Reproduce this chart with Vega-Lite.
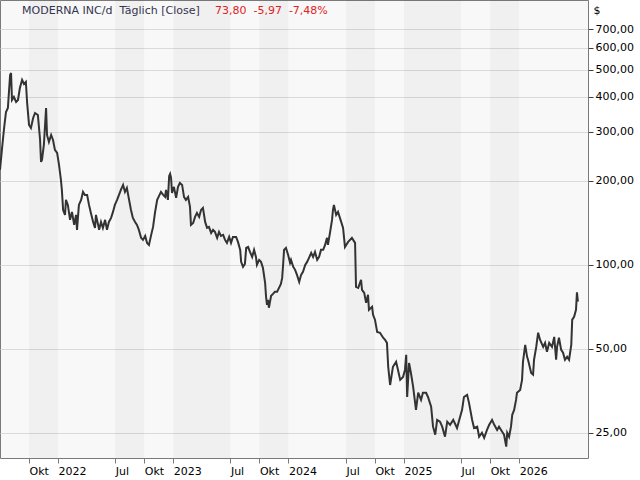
{
  "$schema": "https://vega.github.io/schema/vega-lite/v6.json",
  "width": 588,
  "height": 458,
  "autosize": {"type": "none"},
  "padding": {"left": 0, "top": 0, "right": 52, "bottom": 22},
  "background": "#ffffff",
  "datasets": {
    "bands": [
      {"start": "2021-10-01", "end": "2022-01-01"},
      {"start": "2022-07-01", "end": "2022-10-01"},
      {"start": "2023-01-01", "end": "2023-07-01"},
      {"start": "2023-10-01", "end": "2024-01-01"},
      {"start": "2024-07-01", "end": "2024-10-01"},
      {"start": "2025-01-01", "end": "2025-07-01"},
      {"start": "2025-10-01", "end": "2026-01-01"}
    ],
    "prices": [
      {"date": "2021-07-01", "close": 219.1},
      {"date": "2021-07-07", "close": 258.4},
      {"date": "2021-07-14", "close": 309.7},
      {"date": "2021-07-20", "close": 353.5},
      {"date": "2021-07-26", "close": 365.4},
      {"date": "2021-08-02", "close": 479.7},
      {"date": "2021-08-05", "close": 487.8},
      {"date": "2021-08-08", "close": 390.4},
      {"date": "2021-08-14", "close": 400.2},
      {"date": "2021-08-21", "close": 384.0},
      {"date": "2021-08-27", "close": 390.4},
      {"date": "2021-09-02", "close": 430.9},
      {"date": "2021-09-09", "close": 460.4},
      {"date": "2021-09-15", "close": 445.4},
      {"date": "2021-09-21", "close": 452.9},
      {"date": "2021-09-25", "close": 380.8},
      {"date": "2021-10-01", "close": 317.6},
      {"date": "2021-10-07", "close": 309.7},
      {"date": "2021-10-14", "close": 336.5},
      {"date": "2021-10-20", "close": 350.6},
      {"date": "2021-10-29", "close": 344.9},
      {"date": "2021-11-05", "close": 280.5},
      {"date": "2021-11-08", "close": 234.0},
      {"date": "2021-11-11", "close": 237.9},
      {"date": "2021-11-17", "close": 269.2},
      {"date": "2021-11-24", "close": 365.4},
      {"date": "2021-11-27", "close": 292.4},
      {"date": "2021-12-03", "close": 276.0},
      {"date": "2021-12-10", "close": 292.4},
      {"date": "2021-12-16", "close": 280.5},
      {"date": "2021-12-22", "close": 258.4},
      {"date": "2021-12-29", "close": 252.0},
      {"date": "2022-01-04", "close": 228.3},
      {"date": "2022-01-10", "close": 201.7},
      {"date": "2022-01-13", "close": 185.7},
      {"date": "2022-01-17", "close": 157.4},
      {"date": "2022-01-23", "close": 151.1},
      {"date": "2022-01-26", "close": 171.0},
      {"date": "2022-02-01", "close": 164.1},
      {"date": "2022-02-08", "close": 145.0},
      {"date": "2022-02-14", "close": 154.9},
      {"date": "2022-02-21", "close": 139.1},
      {"date": "2022-02-27", "close": 151.1},
      {"date": "2022-03-02", "close": 133.5},
      {"date": "2022-03-08", "close": 164.1},
      {"date": "2022-03-15", "close": 171.0},
      {"date": "2022-03-21", "close": 182.7},
      {"date": "2022-03-27", "close": 178.2},
      {"date": "2022-04-03", "close": 178.2},
      {"date": "2022-04-09", "close": 164.1},
      {"date": "2022-04-15", "close": 153.6},
      {"date": "2022-04-22", "close": 142.6},
      {"date": "2022-04-28", "close": 135.7},
      {"date": "2022-05-01", "close": 151.1},
      {"date": "2022-05-08", "close": 139.1},
      {"date": "2022-05-11", "close": 133.5},
      {"date": "2022-05-17", "close": 142.6},
      {"date": "2022-05-23", "close": 135.7},
      {"date": "2022-05-30", "close": 145.0},
      {"date": "2022-06-05", "close": 133.5},
      {"date": "2022-06-11", "close": 142.6},
      {"date": "2022-06-18", "close": 147.4},
      {"date": "2022-06-24", "close": 154.9},
      {"date": "2022-06-30", "close": 164.1},
      {"date": "2022-07-07", "close": 171.0},
      {"date": "2022-07-13", "close": 178.2},
      {"date": "2022-07-19", "close": 185.7},
      {"date": "2022-07-26", "close": 193.5},
      {"date": "2022-08-01", "close": 182.7},
      {"date": "2022-08-07", "close": 188.8},
      {"date": "2022-08-14", "close": 171.0},
      {"date": "2022-08-20", "close": 157.4},
      {"date": "2022-08-26", "close": 147.4},
      {"date": "2022-09-02", "close": 142.6},
      {"date": "2022-09-08", "close": 139.1},
      {"date": "2022-09-14", "close": 133.5},
      {"date": "2022-09-21", "close": 125.0},
      {"date": "2022-09-27", "close": 122.9},
      {"date": "2022-10-04", "close": 127.0},
      {"date": "2022-10-10", "close": 119.9},
      {"date": "2022-10-16", "close": 117.9},
      {"date": "2022-10-23", "close": 128.1},
      {"date": "2022-10-29", "close": 136.8},
      {"date": "2022-11-04", "close": 153.6},
      {"date": "2022-11-11", "close": 171.0},
      {"date": "2022-11-17", "close": 176.7},
      {"date": "2022-11-23", "close": 182.7},
      {"date": "2022-11-30", "close": 178.2},
      {"date": "2022-12-06", "close": 175.3},
      {"date": "2022-12-09", "close": 185.7},
      {"date": "2022-12-15", "close": 171.0},
      {"date": "2022-12-19", "close": 208.4},
      {"date": "2022-12-22", "close": 212.0},
      {"date": "2022-12-25", "close": 205.0},
      {"date": "2022-12-28", "close": 181.2},
      {"date": "2023-01-03", "close": 190.4},
      {"date": "2023-01-10", "close": 173.9},
      {"date": "2023-01-16", "close": 190.4},
      {"date": "2023-01-22", "close": 196.7},
      {"date": "2023-01-29", "close": 193.5},
      {"date": "2023-02-04", "close": 175.3},
      {"date": "2023-02-10", "close": 171.0},
      {"date": "2023-02-17", "close": 175.3},
      {"date": "2023-02-23", "close": 161.4},
      {"date": "2023-02-26", "close": 139.1},
      {"date": "2023-03-05", "close": 141.4},
      {"date": "2023-03-11", "close": 148.6},
      {"date": "2023-03-17", "close": 153.6},
      {"date": "2023-03-24", "close": 148.6},
      {"date": "2023-03-30", "close": 157.4},
      {"date": "2023-04-05", "close": 160.1},
      {"date": "2023-04-12", "close": 142.6},
      {"date": "2023-04-18", "close": 135.7},
      {"date": "2023-04-24", "close": 136.8},
      {"date": "2023-05-01", "close": 130.2},
      {"date": "2023-05-07", "close": 133.5},
      {"date": "2023-05-13", "close": 131.3},
      {"date": "2023-05-20", "close": 125.0},
      {"date": "2023-05-26", "close": 131.3},
      {"date": "2023-06-01", "close": 127.0},
      {"date": "2023-06-08", "close": 128.1},
      {"date": "2023-06-14", "close": 122.9},
      {"date": "2023-06-20", "close": 119.9},
      {"date": "2023-06-27", "close": 126.0},
      {"date": "2023-07-03", "close": 119.9},
      {"date": "2023-07-09", "close": 126.0},
      {"date": "2023-07-19", "close": 126.0},
      {"date": "2023-07-25", "close": 120.9},
      {"date": "2023-08-01", "close": 113.2},
      {"date": "2023-08-04", "close": 102.5},
      {"date": "2023-08-10", "close": 98.4},
      {"date": "2023-08-16", "close": 100.8},
      {"date": "2023-08-20", "close": 115.1},
      {"date": "2023-08-26", "close": 116.0},
      {"date": "2023-09-01", "close": 111.3},
      {"date": "2023-09-08", "close": 106.8},
      {"date": "2023-09-14", "close": 113.2},
      {"date": "2023-09-20", "close": 106.8},
      {"date": "2023-09-23", "close": 100.0},
      {"date": "2023-09-30", "close": 104.2},
      {"date": "2023-10-06", "close": 102.5},
      {"date": "2023-10-12", "close": 97.6},
      {"date": "2023-10-19", "close": 86.2},
      {"date": "2023-10-22", "close": 76.8},
      {"date": "2023-10-25", "close": 71.9},
      {"date": "2023-10-28", "close": 74.9},
      {"date": "2023-10-31", "close": 70.2},
      {"date": "2023-11-07", "close": 77.5},
      {"date": "2023-11-13", "close": 78.7},
      {"date": "2023-11-19", "close": 80.1},
      {"date": "2023-11-26", "close": 80.1},
      {"date": "2023-12-02", "close": 82.7},
      {"date": "2023-12-08", "close": 85.5},
      {"date": "2023-12-12", "close": 89.8},
      {"date": "2023-12-15", "close": 100.0},
      {"date": "2023-12-18", "close": 113.2},
      {"date": "2023-12-24", "close": 115.1},
      {"date": "2023-12-31", "close": 108.6},
      {"date": "2024-01-06", "close": 101.7},
      {"date": "2024-01-09", "close": 104.2},
      {"date": "2024-01-16", "close": 98.4},
      {"date": "2024-01-22", "close": 96.0},
      {"date": "2024-01-28", "close": 92.1},
      {"date": "2024-02-04", "close": 86.9},
      {"date": "2024-02-10", "close": 92.1},
      {"date": "2024-02-16", "close": 94.4},
      {"date": "2024-02-23", "close": 100.0},
      {"date": "2024-02-29", "close": 102.5},
      {"date": "2024-03-06", "close": 106.0},
      {"date": "2024-03-13", "close": 110.4},
      {"date": "2024-03-19", "close": 106.8},
      {"date": "2024-03-25", "close": 111.3},
      {"date": "2024-04-01", "close": 104.2},
      {"date": "2024-04-07", "close": 106.8},
      {"date": "2024-04-13", "close": 113.2},
      {"date": "2024-04-20", "close": 113.2},
      {"date": "2024-04-26", "close": 117.9},
      {"date": "2024-05-02", "close": 125.0},
      {"date": "2024-05-05", "close": 117.9},
      {"date": "2024-05-12", "close": 131.3},
      {"date": "2024-05-18", "close": 145.0},
      {"date": "2024-05-21", "close": 157.4},
      {"date": "2024-05-24", "close": 164.1},
      {"date": "2024-05-31", "close": 151.1},
      {"date": "2024-06-06", "close": 154.9},
      {"date": "2024-06-12", "close": 147.4},
      {"date": "2024-06-22", "close": 135.7},
      {"date": "2024-06-28", "close": 116.0},
      {"date": "2024-07-08", "close": 120.9},
      {"date": "2024-07-20", "close": 125.0},
      {"date": "2024-07-30", "close": 119.9},
      {"date": "2024-08-02", "close": 83.4},
      {"date": "2024-08-09", "close": 82.7},
      {"date": "2024-08-18", "close": 88.4},
      {"date": "2024-08-21", "close": 81.4},
      {"date": "2024-08-28", "close": 79.4},
      {"date": "2024-09-03", "close": 73.1},
      {"date": "2024-09-09", "close": 78.1},
      {"date": "2024-09-12", "close": 69.0},
      {"date": "2024-09-22", "close": 70.7},
      {"date": "2024-09-25", "close": 66.2},
      {"date": "2024-10-01", "close": 63.6},
      {"date": "2024-10-08", "close": 57.5},
      {"date": "2024-10-17", "close": 57.1},
      {"date": "2024-10-27", "close": 54.8},
      {"date": "2024-11-02", "close": 53.9},
      {"date": "2024-11-08", "close": 52.5},
      {"date": "2024-11-12", "close": 43.1},
      {"date": "2024-11-18", "close": 37.1},
      {"date": "2024-11-24", "close": 41.0},
      {"date": "2024-11-27", "close": 43.1},
      {"date": "2024-12-07", "close": 44.9},
      {"date": "2024-12-13", "close": 42.0},
      {"date": "2024-12-20", "close": 38.7},
      {"date": "2024-12-29", "close": 39.6},
      {"date": "2025-01-04", "close": 42.0},
      {"date": "2025-01-08", "close": 47.6},
      {"date": "2025-01-11", "close": 33.6},
      {"date": "2025-01-17", "close": 44.5},
      {"date": "2025-01-23", "close": 41.0},
      {"date": "2025-01-30", "close": 36.5},
      {"date": "2025-02-08", "close": 30.2},
      {"date": "2025-02-15", "close": 34.8},
      {"date": "2025-02-24", "close": 32.8},
      {"date": "2025-03-02", "close": 34.8},
      {"date": "2025-03-12", "close": 34.8},
      {"date": "2025-03-18", "close": 33.6},
      {"date": "2025-03-28", "close": 31.0},
      {"date": "2025-04-03", "close": 26.3},
      {"date": "2025-04-10", "close": 24.6},
      {"date": "2025-04-16", "close": 27.8},
      {"date": "2025-04-25", "close": 27.4},
      {"date": "2025-05-02", "close": 26.3},
      {"date": "2025-05-11", "close": 24.2},
      {"date": "2025-05-18", "close": 27.4},
      {"date": "2025-05-27", "close": 26.7},
      {"date": "2025-06-06", "close": 27.8},
      {"date": "2025-06-18", "close": 26.0},
      {"date": "2025-06-25", "close": 27.8},
      {"date": "2025-07-04", "close": 30.2},
      {"date": "2025-07-10", "close": 33.6},
      {"date": "2025-07-20", "close": 34.2},
      {"date": "2025-07-26", "close": 32.0},
      {"date": "2025-08-05", "close": 27.8},
      {"date": "2025-08-11", "close": 26.0},
      {"date": "2025-08-21", "close": 26.3},
      {"date": "2025-08-27", "close": 24.2},
      {"date": "2025-09-05", "close": 25.0},
      {"date": "2025-09-12", "close": 24.0},
      {"date": "2025-09-21", "close": 25.6},
      {"date": "2025-09-28", "close": 26.7},
      {"date": "2025-10-07", "close": 27.8},
      {"date": "2025-10-14", "close": 26.7},
      {"date": "2025-10-23", "close": 25.6},
      {"date": "2025-10-29", "close": 26.3},
      {"date": "2025-11-08", "close": 25.2},
      {"date": "2025-11-14", "close": 24.6},
      {"date": "2025-11-21", "close": 22.3},
      {"date": "2025-11-24", "close": 25.0},
      {"date": "2025-11-30", "close": 24.2},
      {"date": "2025-12-06", "close": 26.3},
      {"date": "2025-12-10", "close": 29.0},
      {"date": "2025-12-16", "close": 30.2},
      {"date": "2025-12-22", "close": 32.8},
      {"date": "2025-12-25", "close": 34.8},
      {"date": "2026-01-04", "close": 35.6},
      {"date": "2026-01-10", "close": 38.7},
      {"date": "2026-01-13", "close": 44.9},
      {"date": "2026-01-20", "close": 51.7},
      {"date": "2026-01-26", "close": 46.8},
      {"date": "2026-01-29", "close": 45.7},
      {"date": "2026-02-08", "close": 41.0},
      {"date": "2026-02-14", "close": 40.4},
      {"date": "2026-02-17", "close": 45.7},
      {"date": "2026-02-24", "close": 50.8},
      {"date": "2026-03-02", "close": 57.1},
      {"date": "2026-03-08", "close": 53.9},
      {"date": "2026-03-18", "close": 50.8},
      {"date": "2026-03-24", "close": 52.5},
      {"date": "2026-03-30", "close": 48.8},
      {"date": "2026-04-06", "close": 52.5},
      {"date": "2026-04-15", "close": 50.8},
      {"date": "2026-04-22", "close": 55.2},
      {"date": "2026-04-28", "close": 45.7},
      {"date": "2026-05-01", "close": 50.8},
      {"date": "2026-05-07", "close": 54.8},
      {"date": "2026-05-14", "close": 49.6},
      {"date": "2026-05-20", "close": 48.4},
      {"date": "2026-05-26", "close": 45.7},
      {"date": "2026-06-02", "close": 46.8},
      {"date": "2026-06-08", "close": 45.7},
      {"date": "2026-06-15", "close": 51.7},
      {"date": "2026-06-18", "close": 63.6},
      {"date": "2026-06-24", "close": 65.1},
      {"date": "2026-06-30", "close": 69.0},
      {"date": "2026-07-03", "close": 79.77},
      {"date": "2026-07-06", "close": 73.8}
    ]
  },
  "layer": [
    {
      "data": {"name": "bands"},
      "mark": {"type": "rect", "color": "#000000", "opacity": 0.03},
      "encoding": {
        "x": {"field": "start", "type": "temporal", "title": null,
              "scale": {"type": "utc", "domain": [{"year": 2021, "month": 7, "date": 1, "utc": true}, {"year": 2026, "month": 8, "date": 7, "utc": true}]}},
        "x2": {"field": "end"}
      }
    },
    {
      "data": {"name": "prices"},
      "mark": {"type": "line", "color": "#333333", "strokeWidth": 2, "strokeJoin": "miter", "clip": true},
      "encoding": {
        "x": {
          "field": "date", "type": "temporal", "title": null,
          "scale": {"type": "utc", "domain": [{"year": 2021, "month": 7, "date": 1, "utc": true}, {"year": 2026, "month": 8, "date": 7, "utc": true}]},
          "axis": {
            "values": [
              {"year": 2021, "month": 10, "date": 1, "utc": true},
              {"year": 2022, "month": 1, "date": 1, "utc": true},
              {"year": 2022, "month": 7, "date": 1, "utc": true},
              {"year": 2022, "month": 10, "date": 1, "utc": true},
              {"year": 2023, "month": 1, "date": 1, "utc": true},
              {"year": 2023, "month": 7, "date": 1, "utc": true},
              {"year": 2023, "month": 10, "date": 1, "utc": true},
              {"year": 2024, "month": 1, "date": 1, "utc": true},
              {"year": 2024, "month": 7, "date": 1, "utc": true},
              {"year": 2024, "month": 10, "date": 1, "utc": true},
              {"year": 2025, "month": 1, "date": 1, "utc": true},
              {"year": 2025, "month": 7, "date": 1, "utc": true},
              {"year": 2025, "month": 10, "date": 1, "utc": true},
              {"year": 2026, "month": 1, "date": 1, "utc": true}
            ],
            "labelExpr": "utcmonth(datum.value) == 0 ? utcFormat(datum.value, '%Y') : (utcmonth(datum.value) == 6 ? 'Jul' : 'Okt')",
            "grid": false,
            "domain": false,
            "tickSize": 5,
            "tickColor": "#7a7a7a",
            "labelAlign": "left",
            "labelBaseline": "top",
            "labelPadding": 2,
            "labelFont": "DejaVu Sans",
            "labelFontSize": 11,
            "labelColor": "#000000",
            "labelOverlap": false,
            "labelBound": false,
            "labelFlush": false
          }
        },
        "y": {
          "field": "close", "type": "quantitative",
          "scale": {"type": "log", "domain": [20.3, 891], "nice": false, "zero": false},
          "axis": {
            "orient": "right",
            "values": [25, 50, 100, 200, 300, 400, 500, 600, 700],
            "labelExpr": "replace(format(datum.value, '.2f'), '.', ',')",
            "grid": true,
            "gridColor": "#dadada",
            "gridWidth": 1,
            "domain": false,
            "tickSize": 5,
            "tickColor": "#404040",
            "labelPadding": 2,
            "labelFont": "DejaVu Sans",
            "labelFontSize": 11,
            "labelColor": "#000000",
            "labelBaseline": "middle",
            "labelOverlap": false,
            "labelFlush": false,
            "title": "$",
            "titleAngle": 0,
            "titleAlign": "left",
            "titleBaseline": "middle",
            "titleX": 5,
            "titleY": 10,
            "titleFont": "DejaVu Sans",
            "titleFontSize": 11,
            "titleFontWeight": "normal",
            "titleColor": "#000000"
          }
        }
      }
    },
    {
      "data": {"values": [{"t": "MODERNA INC/d\u00a0\u00a0Täglich [Close]"}]},
      "mark": {"type": "text", "align": "left", "baseline": "middle", "font": "DejaVu Sans", "fontSize": 11, "color": "#34344f"},
      "encoding": {
        "x": {"datum": {"year": 2021, "month": 9, "date": 9, "utc": true}, "type": "temporal"},
        "y": {"datum": 813, "type": "quantitative"},
        "text": {"field": "t"}
      }
    },
    {
      "data": {"values": [{"t": "73,80\u00a0\u00a0-5,97\u00a0\u00a0-7,48%"}]},
      "mark": {"type": "text", "align": "left", "baseline": "middle", "font": "DejaVu Sans", "fontSize": 11, "color": "#e0231c"},
      "encoding": {
        "x": {"datum": {"year": 2023, "month": 5, "date": 13, "utc": true}, "type": "temporal"},
        "y": {"datum": 813, "type": "quantitative"},
        "text": {"field": "t"}
      }
    }
  ],
  "config": {
    "view": {"fill": "#f8f8f8", "stroke": "#7a7a7a", "strokeWidth": 1},
    "font": "DejaVu Sans"
  }
}
